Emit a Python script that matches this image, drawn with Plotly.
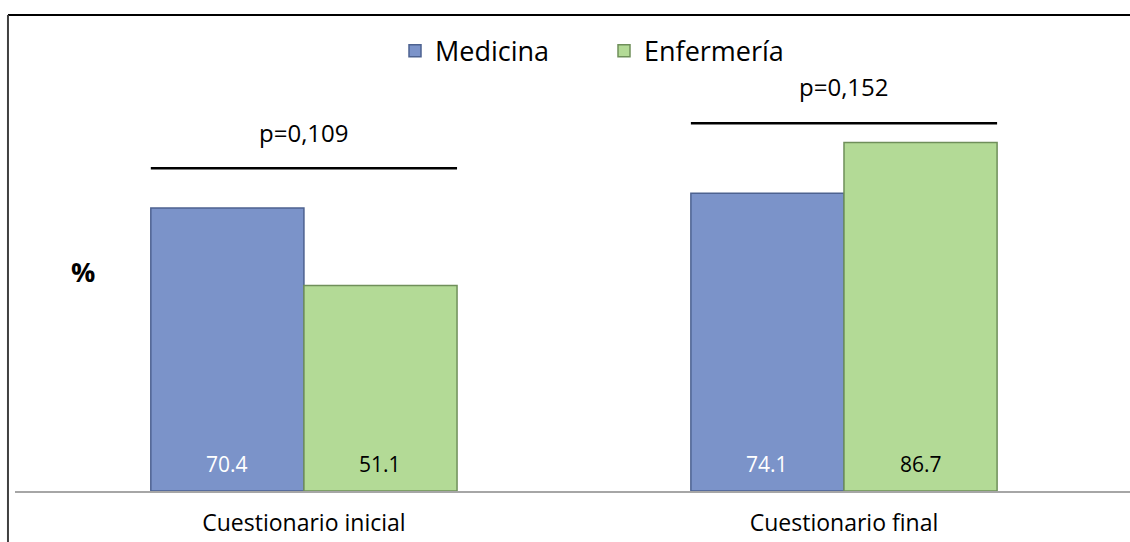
import plotly.graph_objects as go

categories = ["Cuestionario inicial", "Cuestionario final"]
series_names = ["Medicina", "Enfermería"]
medicina = [70.4, 74.1]
enfermeria = [51.1, 86.7]
p_labels = ["p=0,109", "p=0,152"]

FONT = "Open Sans"
COL_MED = "#7b93c9"
COL_ENF = "#b3da96"
LINE_MED = "#4d6290"
LINE_ENF = "#6f8f5a"

BARGAP = 0.433
PLINE_Y = [80.3, 91.5]
PLABEL_Y = [89.3, 100.7]

fig = go.Figure()
fig.add_trace(go.Bar(
    x=list(range(len(categories))), y=medicina, name=series_names[0],
    marker=dict(color=COL_MED, line=dict(color=LINE_MED, width=1.5)),
    hoverinfo="skip",
))
fig.add_trace(go.Bar(
    x=list(range(len(categories))), y=enfermeria, name=series_names[1],
    marker=dict(color=COL_ENF, line=dict(color=LINE_ENF, width=1.5)),
    hoverinfo="skip",
))

half = (1 - BARGAP) / 2
shapes = []
annotations = []
for i, cat in enumerate(categories):
    shapes.append(dict(type="line", xref="x", yref="y", x0=i - half, x1=i + half,
                       y0=PLINE_Y[i], y1=PLINE_Y[i], line=dict(color="black", width=2.5)))
    annotations.append(dict(x=i, y=PLABEL_Y[i], xref="x", yref="y", text=p_labels[i],
                            showarrow=False, yanchor="middle",
                            font=dict(family=FONT, size=24, color="black")))
    for j, (vals, col) in enumerate([(medicina, "white"), (enfermeria, "black")]):
        annotations.append(dict(x=i + (j - 0.5) * half, y=0, xref="x", yref="y",
                                text=f"{vals[i]:.1f}", showarrow=False,
                                yanchor="middle", yshift=27,
                                font=dict(family=FONT, size=21, color=col)))

annotations.append(dict(x=(83 - 15) / 1115, y=(491 - 271) / 451, xref="paper", yref="paper",
                        text="<b>%</b>", showarrow=False, xanchor="center", yanchor="middle",
                        font=dict(family=FONT, size=27, color="black")))

# frame
shapes.append(dict(type="line", xref="paper", yref="paper", x0=-0.0063, x1=1.01,
                   y0=1.0554, y1=1.0554, line=dict(color="black", width=2)))
shapes.append(dict(type="line", xref="paper", yref="paper", x0=-0.0063, x1=-0.0063,
                   y0=1.0554, y1=-0.2, line=dict(color="#404040", width=2)))

fig.update_layout(
    width=1130, height=542,
    margin=dict(l=15, r=0, t=40, b=51),
    paper_bgcolor="white", plot_bgcolor="white",
    barmode="group", bargap=BARGAP, bargroupgap=0,
    font=dict(family=FONT, color="black"),
    legend=dict(orientation="h", x=(395 - 15) / 1115, xanchor="left", y=0.975, yanchor="middle",
                font=dict(family=FONT, size=27), entrywidth=164, entrywidthmode="pixels",
                bgcolor="rgba(0,0,0,0)"),
    shapes=shapes, annotations=annotations,
    showlegend=True,
)
fig.update_xaxes(range=[-0.535, 1.5296], tickmode="array", tickvals=list(range(len(categories))),
                 ticktext=categories, showgrid=False, zeroline=False, showline=True,
                 linecolor="#a6a6a6", linewidth=2, ticks="", ticklabelstandoff=10,
                 tickfont=dict(family=FONT, size=23, color="black"), fixedrange=True)
fig.update_yaxes(range=[0, 112.2], showgrid=False, zeroline=False, showline=False,
                 showticklabels=False, fixedrange=True)

fig.write_html("out.html")
